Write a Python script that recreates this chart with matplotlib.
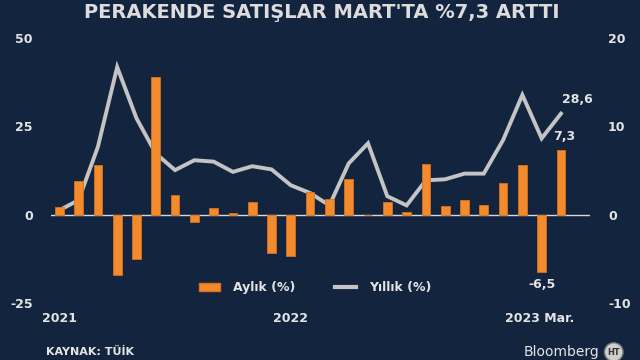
import matplotlib
matplotlib.use("Agg")
import matplotlib.pyplot as plt
from matplotlib.patches import Patch
from matplotlib.lines import Line2D
import numpy as np

months = ["2021-01", "2021-02", "2021-03", "2021-04", "2021-05", "2021-06", "2021-07",
          "2021-08", "2021-09", "2021-10", "2021-11", "2021-12", "2022-01", "2022-02",
          "2022-03", "2022-04", "2022-05", "2022-06", "2022-07", "2022-08", "2022-09",
          "2022-10", "2022-11", "2022-12", "2023-01", "2023-02", "2023-03"]
monthly = [0.9, 3.8, 5.6, -6.8, -5.0, 15.6, 2.2, -0.8, 0.7, 0.2, 1.4, -4.4, -4.7, 2.6,
           1.8, 4.0, -0.1, 1.4, 0.25, 5.7, 1.0, 1.6, 1.1, 3.6, 5.6, -6.5, 7.3]
annual = [1.2, 4.1, 19.2, 41.8, 27.3, 17.3, 12.6, 15.4, 15.0, 12.1, 13.7, 12.8, 8.3, 6.1,
          2.6, 14.5, 20.2, 5.2, 2.6, 9.7, 10.0, 11.6, 11.6, 21.1, 33.9, 21.6, 28.6]
left_ticks = [-25, 0, 25, 50]
right_ticks = [-10, 0, 10, 20]
x_labels = {"2021-01": "2021", "2022-01": "2022", "2023-02": "2023 Mar."}

BG = "#13243f"
ORANGE = "#f28a2e"
GREY = "#c4c4c4"
TXT = "#e4e4e4"

plt.rcParams['font.family'] = ['DejaVu Sans']
fig = plt.figure(figsize=(6.4, 3.6), dpi=100, facecolor=BG)
ax = fig.add_axes([0.0797, 0.159, 0.842, 0.735])
ax2 = ax.twinx()
for a in (ax, ax2):
    a.set_facecolor("none")
    for s in a.spines.values():
        s.set_visible(False)
ax.set_facecolor(BG)

x = np.arange(len(months))
ax.plot(x, annual, color=GREY, lw=2.8, solid_joinstyle='miter', zorder=3)
ax2.bar(x, monthly, width=0.45, color=ORANGE, edgecolor="#d9701c", linewidth=0.6, zorder=2)

ax.set_ylim(-25, 50)
ax2.set_ylim(-10, 20)
ax.set_xlim(-0.43, 27.5)
ax.axhline(0, color="#d8d8d8", lw=1.0, zorder=1)

ax.set_yticks(left_ticks)
ax.set_yticklabels([str(v) for v in left_ticks])
ax2.set_yticks(right_ticks)
ax2.set_yticklabels([str(v) for v in right_ticks])
ax.tick_params(axis='y', length=0, pad=13, labelcolor=TXT, labelsize=9)
ax2.tick_params(axis='y', length=0, pad=13, labelcolor=TXT, labelsize=9)
for lab in ax.get_yticklabels() + ax2.get_yticklabels():
    lab.set_fontweight('bold')
ax.set_xticks([])

for m, lbl in x_labels.items():
    i = months.index(m)
    xpos = i if lbl != "2023 Mar." else i - 0.1
    ax.text(xpos, -0.06, lbl, transform=ax.get_xaxis_transform(), ha='center', va='center',
            color=TXT, fontsize=9, fontweight='bold')

# annotations
n = len(months) - 1
ax.annotate("28,6", (n, annual[n]), xytext=(12, 10), textcoords='offset points',
            ha='center', va='center', color=TXT, fontsize=9, fontweight='bold')
ax2.annotate("7,3", (n, monthly[n]), xytext=(2, 10), textcoords='offset points',
             ha='center', va='center', color=TXT, fontsize=9, fontweight='bold')
ax2.annotate("-6,5", (n - 1, monthly[n - 1]), xytext=(0, -9), textcoords='offset points',
             ha='center', va='center', color=TXT, fontsize=9, fontweight='bold')

handles = [Patch(facecolor=ORANGE, edgecolor="#d9701c"),
           Line2D([0], [0], color=GREY, lw=3)]
leg = fig.legend(handles, ["Aylık (%)", "Yıllık (%)"], loc='center',
                 bbox_to_anchor=(0.492, 0.2), ncol=2, frameon=False,
                 handlelength=1.7, handleheight=0.6, columnspacing=3.2, handletextpad=1.0,
                 prop={'size': 9, 'weight': 'bold'})
for t in leg.get_texts():
    t.set_color(TXT)

fig.text(0.503, 0.965, "PERAKENDE SATIŞLAR MART'TA %7,3 ARTTI", ha='center', va='center',
         color="#dcdcdc", fontsize=14, fontweight='bold')
fig.text(0.072, 0.022, "KAYNAK: TÜİK", ha='left', va='center', color=TXT,
         fontsize=8, fontweight='bold')
fig.text(0.936, 0.022, "Bloomberg", ha='right', va='center', color=TXT, fontsize=10)
fig.text(0.959, 0.022, "HT", ha='center', va='center', color="#333333", fontsize=6,
         fontweight='bold',
         bbox=dict(boxstyle='circle,pad=0.35', facecolor="#cfcfcf", edgecolor="#777777"))

fig.savefig("out.png", dpi=100, facecolor=BG)
